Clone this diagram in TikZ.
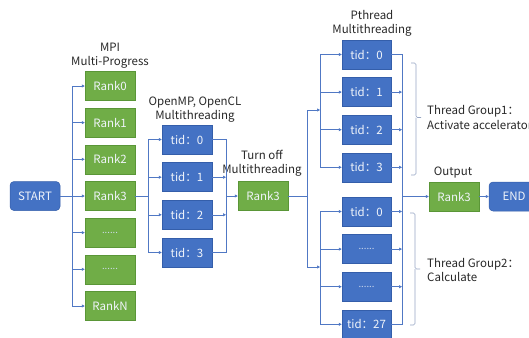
\documentclass[tikz,border=0pt]{standalone}
\usepackage{fontspec}
\setmainfont{Noto Sans CJK SC}
\usetikzlibrary{arrows.meta}
\definecolor{boxblue}{RGB}{68,114,196}
\definecolor{boxblueline}{RGB}{52,94,170}
\definecolor{boxgreen}{RGB}{112,173,71}
\definecolor{boxgreenline}{RGB}{90,150,55}
\definecolor{wire}{RGB}{80,120,196}
\definecolor{bracecol}{RGB}{150,165,195}
\definecolor{labeltext}{RGB}{40,40,40}
\tikzset{
  box/.style={draw, line width=0.5pt, minimum width=50pt, minimum height=29pt,
    inner sep=0pt, font=\fontsize{11.5}{13}\selectfont, text=white!92!boxblue},
  bluebox/.style={box, fill=boxblue, draw=boxblueline},
  greenbox/.style={box, fill=boxgreen, draw=boxgreenline},
  termbox/.style={bluebox, rounded corners=4pt},
  wireline/.style={draw=wire, line width=0.6pt},
  arr/.style={wireline, -{Triangle[length=3pt,width=3pt]}},
  heading/.style={align=center, text=labeltext, font=\fontsize{11.5}{14.5}\selectfont, inner sep=0pt},
  bracket/.style={draw=bracecol, line width=0.6pt, rounded corners=1.5pt},
  dots/.style={font=\fontsize{9.5}{10}\selectfont, text=white!75!boxblue}
}
\begin{document}
\begin{tikzpicture}[x=1pt, y=-1pt]
\useasboundingbox (0,0) rectangle (529,337);

% start node and MPI ranks
\node[termbox] (start) at (35,196) {START};
\node[greenbox] (r0) at (110,86) {Rank0};
\node[greenbox] (r1) at (110,122.6) {Rank1};
\node[greenbox] (r2) at (110,159.3) {Rank2};
\node[greenbox] (r3) at (110,196) {Rank3};
\node[greenbox, dots] (r4) at (110,232.6) {......};
\node[greenbox, dots] (r5) at (110,269.3) {......};
\node[greenbox] (rN) at (110,306) {RankN};
\node[heading] (mpi) at (110,55.5) {MPI\\Multi-Progress};

% OpenMP / OpenCL threads of rank 3
\node[bluebox] (ta0) at (187,139.5) {tid：0};
\node[bluebox] (ta1) at (187,177.2) {tid：1};
\node[bluebox] (ta2) at (187,214.8) {tid：2};
\node[bluebox] (ta3) at (187,252.5) {tid：3};
\node[heading] (omp) at (195,109.5) {OpenMP, OpenCL\\Multithreading};

% rank 3 after the parallel region
\node[greenbox] (rk3m) at (263,196) {Rank3};
\node[heading] (off) at (262,163.5) {Turn off\\Multithreading};

% Pthread groups
\node[bluebox, minimum width=49pt] (p0) at (366.5,54.5) {tid：0};
\node[bluebox, minimum width=49pt] (p1) at (366.5,92.1) {tid：1};
\node[bluebox, minimum width=49pt] (p2) at (366.5,129.7) {tid：2};
\node[bluebox, minimum width=49pt] (p3) at (366.5,167.3) {tid：3};
\node[bluebox, minimum width=49pt] (q0) at (366.5,211.5) {tid：0};
\node[bluebox, minimum width=49pt, dots] (q1) at (366.5,249.1) {......};
\node[bluebox, minimum width=49pt, dots] (q2) at (366.5,286.7) {......};
\node[bluebox, minimum width=49pt] (q3) at (366.5,324.3) {tid：27};
\node[heading] (pth) at (372,23.5) {Pthread\\Multithreading};

% output and end
\node[greenbox] (out) at (454,196.5) {Rank3};
\node[termbox] (end) at (514,196.5) {END};
\node[heading] (outlbl) at (453,173) {Output};

% group labels
\node[heading, anchor=west, align=left] (g1) at (427,117.5) {Thread Group1：\\Activate accelerator};
\node[heading, anchor=west, align=left] (g2) at (427,270) {Thread Group2：\\Calculate};

% bus positions
\coordinate (mpibus) at (72,196);
\coordinate (ompin) at (148,196);
\coordinate (ompout) at (226,196);
\coordinate (pbus) at (307,196);
\coordinate (gbus) at (320,196);
\coordinate (obus) at (402,196);
\coordinate (g1in) at (320,110);
\coordinate (g2in) at (320,267);

% START fan-out to the ranks
\draw[wireline] (start.east) -- (mpibus);
\draw[wireline] (mpibus |- r0) -- (mpibus |- rN);
\foreach \n in {r0,r1,r2,r3,r4,r5,rN}
  \draw[arr] (mpibus |- \n) -- (\n.west);

% rank 3 fan-out to threads
\draw[wireline] (r3.east) -- (ompin);
\draw[wireline] (ompin |- ta0) -- (ompin |- ta3);
\foreach \n in {ta0,ta1,ta2,ta3}
  \draw[arr] (ompin |- \n) -- (\n.west);

% threads join back into rank 3
\draw[wireline] (ta0.east) -- (ompout |- ta0) -- (ompout |- ta3) -- (ta3.east);
\draw[arr] (ta1.east) -- (ompout |- ta1);
\draw[arr] (ta2.east) -- (ompout |- ta2);
\draw[arr] (ompout) -- (rk3m.west);

% rank 3 fan-out to the two Pthread groups
\draw[wireline] (rk3m.east) -- (pbus);
\draw[wireline] (pbus |- g1in) -- (pbus |- g2in);
\draw[arr] (pbus |- g1in) -- (g1in);
\draw[arr] (pbus |- g2in) -- (g2in);
\draw[wireline] (gbus |- p0) -- (gbus |- p3);
\draw[wireline] (gbus |- q0) -- (gbus |- q3);
\foreach \n in {p0,p1,p2,p3,q0,q1,q2,q3}
  \draw[arr] (gbus |- \n) -- (\n.west);

% Pthread join into the output rank
\draw[wireline] (p0.east) -- (obus |- p0) -- (obus |- q3) -- (q3.east);
\foreach \n in {p1,p2,p3,q0,q1,q2}
  \draw[arr] (\n.east) -- (obus |- \n);
\draw[arr] (obus |- out) -- (out.west);
\draw[arr] (out.east) -- (end.west);

% group brackets
\draw[bracket] (411,63) -- (416,63) -- (416,117.5) -- (421,117.5);
\draw[bracket] (416,117.5) -- (416,175) -- (411,175);
\draw[bracket] (410,213) -- (415,213) -- (415,269) -- (420,269);
\draw[bracket] (415,269) -- (415,325) -- (410,325);
\end{tikzpicture}
\end{document}
